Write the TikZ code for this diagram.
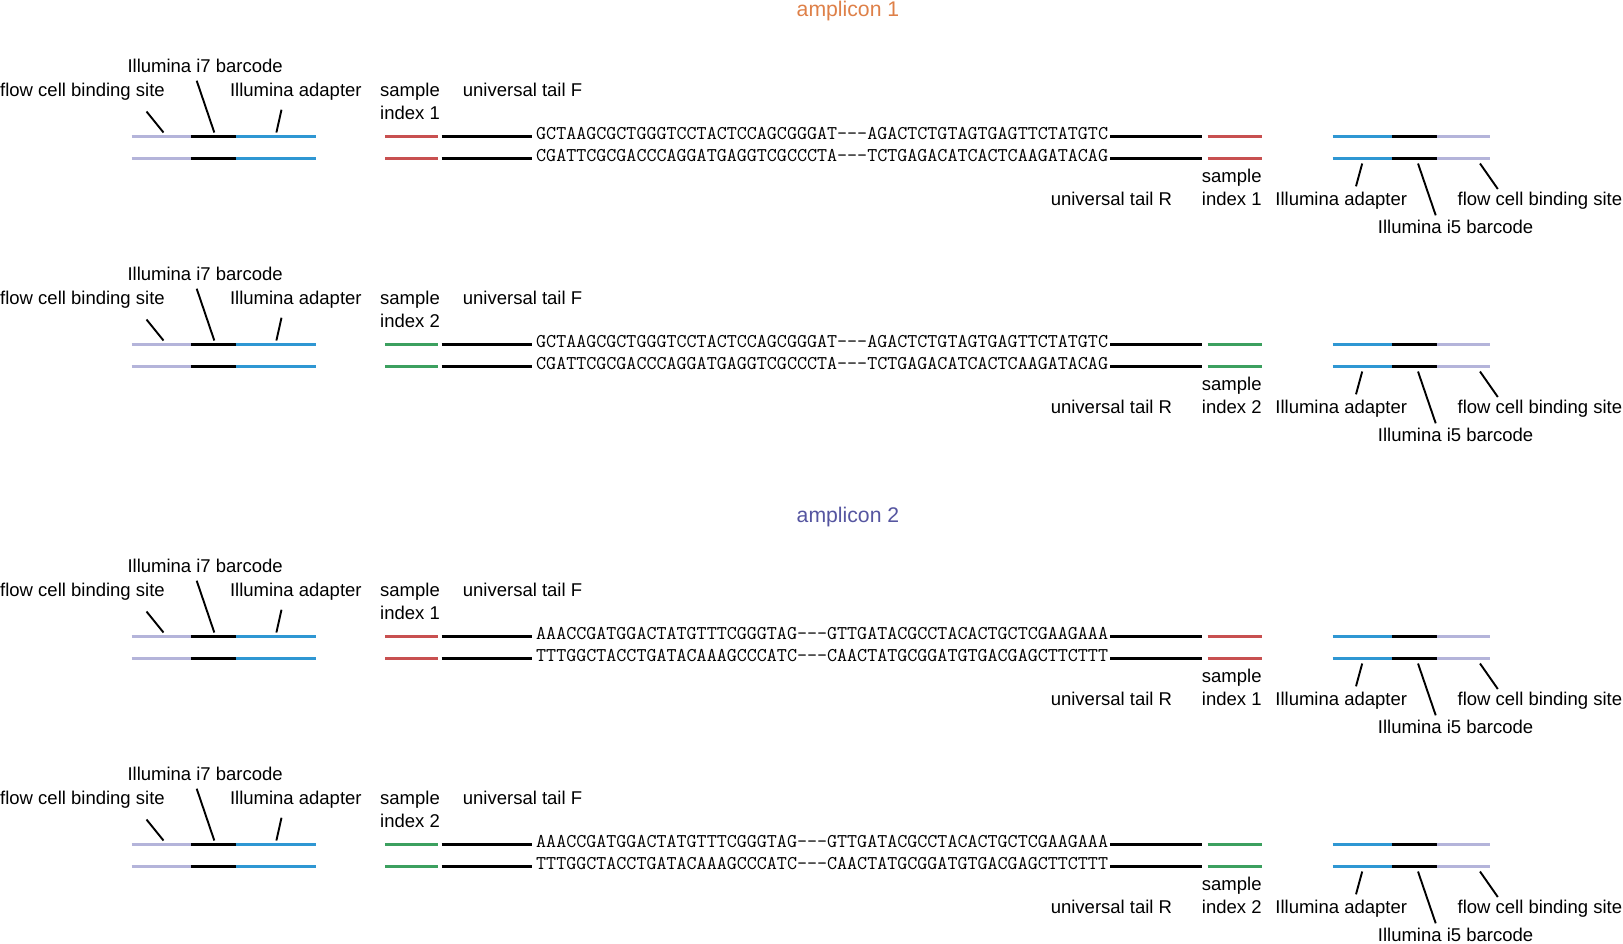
\documentclass[tikz,border=0pt]{standalone}
\usepackage{fontspec}
\setmainfont{Liberation Sans}
\setmonofont{Latin Modern Mono}
\definecolor{flowlav}{RGB}{180,180,218}
\definecolor{adblue}{RGB}{47,151,211}
\definecolor{idxred}{RGB}{200,80,80}
\definecolor{idxgreen}{RGB}{60,160,95}
\definecolor{amporange}{RGB}{222,128,72}
\definecolor{ampblue}{RGB}{85,85,160}

\begin{document}
\begin{tikzpicture}[
  x=1pt,y=-1pt,
  lbl/.style={inner sep=0pt,anchor=base west,font=\fontsize{18.5}{22.8}\selectfont},
  seq/.style={inner sep=0pt,anchor=base west,font=\ttfamily\fontsize{19.48}{22}\selectfont},
  heading/.style={inner sep=0pt,anchor=base,font=\fontsize{21.2}{25}\selectfont},
  strand/.style={line width=2.5pt},
  lead/.style={line width=1.9pt},
]
\useasboundingbox (0,0) rectangle (1623,943);

% ---------- headings ----------
\node[heading,text=amporange] (amp1) at (848,16) {amplicon 1};
\node[heading,text=ampblue] (amp2) at (848,522) {amplicon 2};

% ---------- four constructs ----------
\foreach \off/\b/\ic/\ix/\st/\sb in {%
  0/1/idxred/1/GCTAAGCGCTGGGTCCTACTCCAGCGGGAT---AGACTCTGTAGTGAGTTCTATGTC/CGATTCGCGACCCAGGATGAGGTCGCCCTA---TCTGAGACATCACTCAAGATACAG,
  208/2/idxgreen/2/GCTAAGCGCTGGGTCCTACTCCAGCGGGAT---AGACTCTGTAGTGAGTTCTATGTC/CGATTCGCGACCCAGGATGAGGTCGCCCTA---TCTGAGACATCACTCAAGATACAG,
  500/3/idxred/1/AAACCGATGGACTATGTTTCGGGTAG---GTTGATACGCCTACACTGCTCGAAGAAA/TTTGGCTACCTGATACAAAGCCCATC---CAACTATGCGGATGTGACGAGCTTCTTT,
  708/4/idxgreen/2/AAACCGATGGACTATGTTTCGGGTAG---GTTGATACGCCTACACTGCTCGAAGAAA/TTTGGCTACCTGATACAAAGCCCATC---CAACTATGCGGATGTGACGAGCTTCTTT}{
\begin{scope}[shift={(0,\off)}]
  % strands
  \foreach \yy in {136.5,158.5}{
    \draw[strand,flowlav] (131.7,\yy) -- (191,\yy);
    \draw[strand,black] (191,\yy) -- (235.7,\yy);
    \draw[strand,adblue] (235.7,\yy) -- (316,\yy);
    \draw[strand,\ic] (385,\yy) -- (438.3,\yy);
    \draw[strand,black] (441.7,\yy) -- (532.3,\yy);
    \draw[strand,black] (1110,\yy) -- (1201.7,\yy);
    \draw[strand,\ic] (1207.7,\yy) -- (1261.7,\yy);
    \draw[strand,adblue] (1332.7,\yy) -- (1391.7,\yy);
    \draw[strand,black] (1391.7,\yy) -- (1436.7,\yy);
    \draw[strand,flowlav] (1436.7,\yy) -- (1490,\yy);
  }
  \node[seq] (top\b) at (536,139.5) {\st};
  \node[seq] (bot\b) at (536,161.2) {\sb};

  % labels, left side
  \node[lbl] (i7\b) at (127.3,72.5) {Illumina i7 barcode};
  \node[lbl] (fcl\b) at (0,96.5) {flow cell binding site};
  \node[lbl] (adl\b) at (229.8,96.5) {Illumina adapter};
  \node[lbl,align=left] (sil\b) at (380,119.3) {sample\\index \ix};
  \node[lbl] (utf\b) at (462.7,96.5) {universal tail F};

  % labels, right side
  \node[lbl] (utr\b) at (1050.6,205) {universal tail R};
  \node[lbl,align=left] (sir\b) at (1201.7,205) {sample\\index \ix};
  \node[lbl] (adr\b) at (1275.2,205) {Illumina adapter};
  \node[lbl] (fcr\b) at (1457.4,205) {flow cell binding site};
  \node[lbl] (i5\b) at (1377.7,233.3) {Illumina i5 barcode};

  % leaders
  \coordinate (fcla\b) at (146.5,111.5); \coordinate (fclb\b) at (163.5,132.5);
  \coordinate (i7a\b) at (196.7,80.7);   \coordinate (i7b\b) at (214.3,132.5);
  \coordinate (adla\b) at (281.5,109.7); \coordinate (adlb\b) at (276.4,132.5);
  \coordinate (adra\b) at (1362.2,163.5); \coordinate (adrb\b) at (1356,186.3);
  \coordinate (i5a\b) at (1418,163.5);   \coordinate (i5b\b) at (1435.7,215.3);
  \coordinate (fcra\b) at (1480,163.5);  \coordinate (fcrb\b) at (1497.8,189);
  \draw[lead] (fcla\b) -- (fclb\b);
  \draw[lead] (i7a\b) -- (i7b\b);
  \draw[lead] (adla\b) -- (adlb\b);
  \draw[lead] (adra\b) -- (adrb\b);
  \draw[lead] (i5a\b) -- (i5b\b);
  \draw[lead] (fcra\b) -- (fcrb\b);
\end{scope}
}
\end{tikzpicture}
\end{document}
